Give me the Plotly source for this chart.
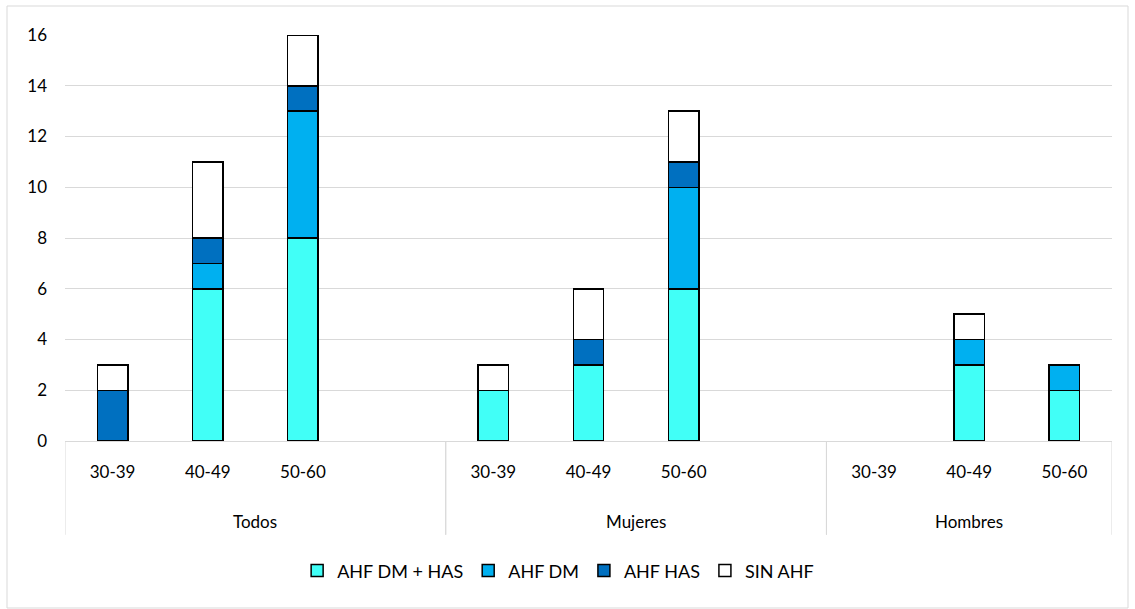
import plotly.graph_objects as go

groups = ["Todos", "Mujeres", "Hombres"]
ages = ["30-39", "40-49", "50-60"]
series_names = ["AHF DM + HAS", "AHF DM", "AHF HAS", "SIN AHF"]
colors = ["#41FFF7", "#00B0F0", "#0070C0", "#FFFFFF"]

# values per group, per age bracket (30-39, 40-49, 50-60)
dm_has = {"Todos": [0, 6, 8], "Mujeres": [2, 3, 6], "Hombres": [0, 3, 2]}
dm = {"Todos": [0, 1, 5], "Mujeres": [0, 0, 4], "Hombres": [0, 1, 1]}
has = {"Todos": [2, 1, 1], "Mujeres": [0, 1, 1], "Hombres": [0, 0, 0]}
sin = {"Todos": [1, 3, 2], "Mujeres": [1, 2, 2], "Hombres": [0, 1, 0]}

# slots per group (Todos and Mujeres keep an empty 4th slot)
slots = {"Todos": 4, "Mujeres": 4, "Hombres": 3}

positions = []
labels = []
group_bounds = []
start = 0
for g in groups:
    group_bounds.append((start - 0.5, start + slots[g] - 0.5))
    for i, a in enumerate(ages):
        positions.append(start + i)
        labels.append(a)
    start += slots[g]

fig = go.Figure()
for name, col, data in zip(series_names, colors, [dm_has, dm, has, sin]):
    vals = []
    for g in groups:
        vals.extend(data[g])
    vals = [v if v != 0 else None for v in vals]
    fig.add_trace(go.Bar(
        x=positions, y=vals, name=name,
        marker=dict(color=col, line=dict(color="#000000", width=1.5)),
        width=0.32,
    ))

total_max = start - 0.5
shapes = []
for (a, b) in group_bounds:
    for xv in (a, b):
        shapes.append(dict(type="line", xref="x", yref="paper", x0=xv, x1=xv,
                           y0=0, y1=-0.231, line=dict(color="#D9D9D9", width=1)))
# outer chart border
shapes.append(dict(type="rect", xref="paper", yref="paper",
                   x0=-58 / 1047, x1=1 + 16 / 1047, y0=-167 / 406, y1=1 + 29 / 406,
                   line=dict(color="#D9D9D9", width=1)))

annotations = []
for g, (a, b) in zip(groups, group_bounds):
    annotations.append(dict(x=(a + b) / 2, y=0, xref="x", yref="paper",
                            text=g, showarrow=False, yanchor="middle",
                            yshift=-80, font=dict(size=17, color="#000000")))

fig.update_layout(
    barmode="stack",
    width=1135, height=609,
    margin=dict(l=65, r=23, t=35, b=168),
    paper_bgcolor="#FFFFFF", plot_bgcolor="#FFFFFF",
    font=dict(family="Lato, Open Sans, sans-serif", size=17, color="#000000"),
    showlegend=True,
    legend=dict(orientation="h", x=0.471, xanchor="center", y=-0.32, yanchor="middle",
                font=dict(size=18), traceorder="normal", itemwidth=30),
    shapes=shapes,
    annotations=annotations,
    xaxis=dict(range=[-0.5, total_max], tickvals=positions, ticktext=labels,
               showgrid=False, showline=True, linecolor="#D9D9D9", linewidth=1,
               ticks="", ticklabelstandoff=16, zeroline=False, fixedrange=True),
    yaxis=dict(range=[0, 16], dtick=2, showgrid=True, gridcolor="#D9D9D9", gridwidth=1,
               zeroline=False, ticks="", ticklabelstandoff=17, showline=False,
               fixedrange=True),
)

fig.write_html("out.html")
